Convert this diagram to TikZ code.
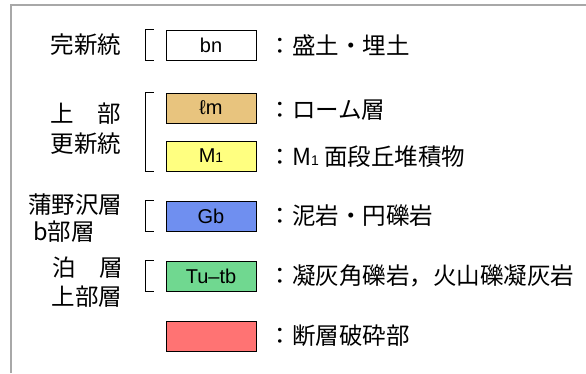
\documentclass[tikz,border=0pt]{standalone}
\usepackage{fontspec}
\newfontfamily\jpfont{Noto Sans CJK JP}
\newfontfamily\labfont{Liberation Sans}
\usetikzlibrary{positioning}
\definecolor{loam}{HTML}{E8C47E}
\definecolor{terrace}{HTML}{FFFF80}
\definecolor{mudstone}{HTML}{6F8FF0}
\definecolor{tuff}{HTML}{70D890}
\definecolor{fault}{HTML}{FF7373}
\definecolor{framegray}{HTML}{A8A8A8}
\tikzset{
  legbox/.style={draw, line width=0.8pt, minimum width=90pt, minimum height=30pt,
    inner sep=0pt, font=\labfont\fontsize{20}{22}\selectfont},
  legtext/.style={inner sep=0pt, font=\jpfont\fontsize{23.5}{27}\selectfont},
  unitname/.style={inner sep=0pt, font=\jpfont\fontsize{23.5}{27}\selectfont},
  bracket/.style={line width=0.7pt},
}
\begin{document}
\begin{tikzpicture}[x=1pt,y=-1pt]
    \useasboundingbox (0,0) rectangle (586,373);
    %frame
    \draw [framegray,line width=1.5pt] (11,373) -- (11,5) -- (586,5);
    %colour boxes
    \node [legbox,fill=white] (bn) at (211,45) {bn};
    \node [legbox,fill=loam] (lm) at (211,108) {ℓm};
    \node [legbox,fill=terrace] (m1) at (211,156) {M{\fontsize{14}{14}\selectfont 1}};
    \node [legbox,fill=mudstone] (gb) at (211,216) {Gb};
    \node [legbox,fill=tuff] (tu) at (211,276) {Tu–tb};
    \node [legbox,fill=fault] (fz) at (211,336) {};
    %explanations
    \node [legtext,right=12pt of bn] (bntxt) {：盛土・埋土};
    \node [legtext,right=12pt of lm,yshift=-2pt] (lmtxt) {：ローム層};
    \node [legtext,right=12pt of m1,yshift=-1pt] (m1txt) {：M{\labfont\fontsize{14}{14}\selectfont 1} 面段丘堆積物};
    \node [legtext,right=12pt of gb] (gbtxt) {：泥岩・円礫岩};
    \node [legtext,right=12pt of tu] (tutxt) {：凝灰角礫岩，火山礫凝灰岩};
    \node [legtext,right=12pt of fz] (fztxt) {：断層破砕部};
    %brackets
    \draw [bracket] ([xshift=-12pt]bn.north west) -- ++(-8,0) |- ([xshift=-12pt]bn.south west);
    \draw [bracket] ([xshift=-12pt]lm.north west) -- ++(-8,0) |- ([xshift=-12pt]m1.south west);
    \draw [bracket] ([xshift=-12pt]gb.north west) -- ++(-8,0) |- ([xshift=-12pt]gb.south west);
    \draw [bracket] ([xshift=-12pt]tu.north west) -- ++(-8,0) |- ([xshift=-12pt]tu.south west);
    %units
    \node [unitname] (holo) at (86,45) {完新統};
    \node [unitname] (upper) at (86,114) {上　部};
    \node [unitname] (pleist) at (86,144) {更新統};
    \node [unitname] (gamano) at (75,205) {蒲野沢層};
    \node [unitname] (bmem) at (64,232) {b部層};
    \node [unitname] (tomari) at (88,268) {泊　層};
    \node [unitname] (uppmem) at (87,297) {上部層};
\end{tikzpicture}
\end{document}
